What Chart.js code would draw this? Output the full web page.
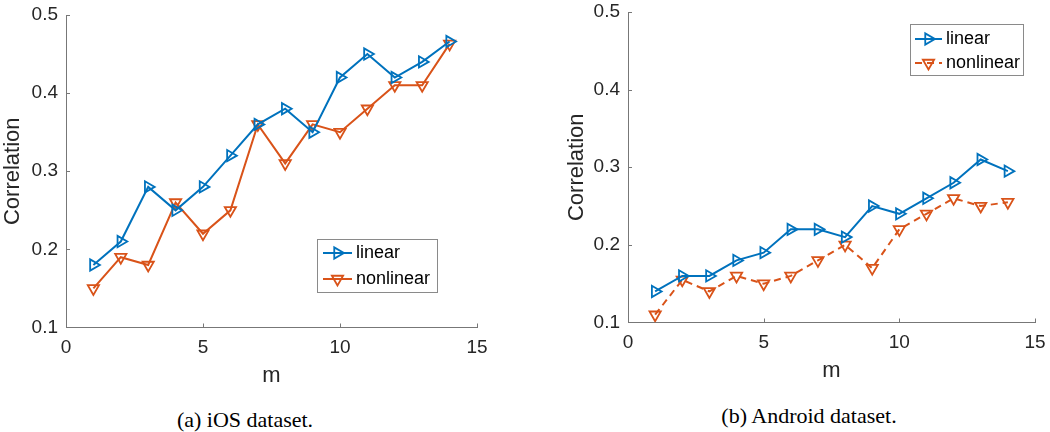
<!DOCTYPE html>
<html>
<head>
<meta charset="utf-8">
<script src="https://cdn.jsdelivr.net/npm/chart.js@4.4.1/dist/chart.umd.min.js"></script>
<style>
  html, body { margin: 0; padding: 0; background: #fff; }
  body { width: 1050px; height: 432px; position: relative; overflow: hidden; }
  canvas { position: absolute; top: 0; }
  #ios { left: 0; }
  #android { left: 564px; }
  .caption { position: absolute; font: 22px "Liberation Serif", "Times New Roman", serif; color: #000; transform: translate(-50%, -50%); white-space: nowrap; }
</style>
</head>
<body>
<canvas id="ios" width="525" height="400"></canvas>
<canvas id="android" width="486" height="400"></canvas>
<div class="caption" style="left:245px;top:420px">(a) iOS dataset.</div>
<div class="caption" style="left:809px;top:416px">(b) Android dataset.</div>
<script>
const mValues = [1, 2, 3, 4, 5, 6, 7, 8, 9, 10, 11, 12, 13, 14]
const iosLinear = [0.18, 0.21, 0.28, 0.25, 0.28, 0.32, 0.36, 0.38, 0.35, 0.42, 0.45, 0.42, 0.44, 0.466]
const iosNonlinear = [0.15, 0.19, 0.18, 0.26, 0.22, 0.25, 0.36, 0.31, 0.36, 0.35, 0.38, 0.41, 0.41, 0.463]
const androidLinear = [0.14, 0.16, 0.16, 0.18, 0.19, 0.22, 0.22, 0.21, 0.25, 0.24, 0.26, 0.28, 0.31, 0.295]
const androidNonlinear = [0.11, 0.155, 0.14, 0.16, 0.15, 0.16, 0.18, 0.2, 0.17, 0.22, 0.24, 0.26, 0.25, 0.255]
const xTickValues = [0, 5, 10, 15]
const yTickValues = [0.1, 0.2, 0.3, 0.4, 0.5]
const seriesNames = ['linear', 'nonlinear']

const BLUE = '#0072BD'
const ORANGE = '#D95319'
const AXIS_COLOR = '#777777'
const TEXT_COLOR = '#262626'
const SANS = '"Liberation Sans", Arial, sans-serif'

const pts = arr => mValues.map((m, i) => ({ x: m, y: arr[i] }))

// MATLAB style: tick marks point into the plot
const innerTicks = {
  id: 'innerTicks',
  afterDraw(chart) {
    const { ctx, chartArea: a, scales: { x, y } } = chart
    ctx.save()
    ctx.strokeStyle = AXIS_COLOR
    ctx.lineWidth = 1
    ctx.beginPath()
    x.ticks.forEach(t => {
      if (t.value === x.min) return
      const px = Math.round(x.getPixelForValue(t.value)) + 0.5
      ctx.moveTo(px, a.bottom); ctx.lineTo(px, a.bottom - 4)
    })
    y.ticks.forEach(t => {
      if (t.value === y.min) return
      const py = Math.round(y.getPixelForValue(t.value)) + 0.5
      ctx.moveTo(a.left, py); ctx.lineTo(a.left + 4, py)
    })
    ctx.stroke()
    ctx.restore()
  }
}

const boxLegend = {
  id: 'boxLegend',
  afterDraw(chart, args, o) {
    const ctx = chart.ctx
    ctx.save()
    ctx.fillStyle = '#fff'
    ctx.fillRect(o.x1, o.y1, o.x2 - o.x1, o.y2 - o.y1)
    ctx.strokeStyle = '#8a8a8a'
    ctx.lineWidth = 1
    ctx.strokeRect(o.x1 + 0.5, o.y1 + 0.5, o.x2 - o.x1, o.y2 - o.y1)
    chart.data.datasets.forEach((ds, i) => {
      const yy = o.rows[i]
      ctx.strokeStyle = ds.borderColor
      ctx.lineWidth = ds.borderWidth
      ctx.setLineDash(ds.borderDash || [])
      ctx.beginPath(); ctx.moveTo(o.lineX1, yy); ctx.lineTo(o.lineX2, yy); ctx.stroke()
      ctx.setLineDash([])
      ctx.lineWidth = ds.pointBorderWidth
      ctx.fillStyle = 'rgba(0,0,0,0)'
      Chart.helpers.drawPoint(ctx, { pointStyle: ds.pointStyle, rotation: ds.pointRotation, radius: ds.pointRadius, borderWidth: ds.pointBorderWidth }, (o.lineX1 + o.lineX2) / 2, yy)
      ctx.fillStyle = '#000'
      ctx.font = '18px ' + SANS
      ctx.textBaseline = 'middle'
      ctx.textAlign = 'left'
      ctx.fillText(ds.label, o.textX, yy)
    })
    ctx.restore()
  }
}

function series(label, values, color, rotation, dash) {
  return {
    label, data: pts(values),
    borderColor: color, borderWidth: 2, borderDash: dash || [],
    pointStyle: 'triangle', pointRotation: rotation, pointRadius: 6.5,
    pointBorderColor: color, pointBorderWidth: 1.8, pointBackgroundColor: 'rgba(0,0,0,0)',
    pointHoverRadius: 6.5, tension: 0, fill: false,
  }
}

function makeChart(id, datasets, lay) {
  return new Chart(document.getElementById(id), {
    type: 'line',
    data: { datasets },
    plugins: [innerTicks, boxLegend],
    options: {
      responsive: false, animation: false, devicePixelRatio: 1,
      layout: { padding: { top: lay.top, right: lay.right, left: 0, bottom: 0 } },
      plugins: { legend: { display: false }, tooltip: { enabled: false }, boxLegend: lay.legend },
      scales: {
        x: {
          type: 'linear', min: 0, max: 15,
          afterBuildTicks: s => { s.ticks = xTickValues.map(v => ({ value: v })) },
          afterFit: s => { s.height = lay.xHeight; s.paddingLeft = s.paddingRight = 0 },
          ticks: { callback: v => String(v), color: TEXT_COLOR, font: { family: SANS, size: 19 }, padding: lay.xPad, maxRotation: 0 },
          grid: { display: false, drawTicks: false },
          border: { display: true, color: AXIS_COLOR, width: 1 },
          title: { display: true, text: 'm', color: TEXT_COLOR, font: { family: SANS, size: 22 }, padding: { top: 0, bottom: lay.mPad } },
        },
        y: {
          min: 0.1, max: 0.5,
          afterBuildTicks: s => { s.ticks = yTickValues.map(v => ({ value: v })) },
          afterFit: s => { s.width = lay.yWidth; s.paddingTop = s.paddingBottom = 0 },
          ticks: { callback: v => v.toFixed(1), color: TEXT_COLOR, font: { family: SANS, size: 19 }, padding: 8 },
          grid: { display: false, drawTicks: false },
          border: { display: true, color: AXIS_COLOR, width: 1 },
          title: { display: true, text: 'Correlation', color: TEXT_COLOR, font: { family: SANS, size: 22 }, padding: 0 },
        },
      },
    },
  })
}

makeChart('ios', [
  series(seriesNames[0], iosLinear, BLUE, 90),
  series(seriesNames[1], iosNonlinear, ORANGE, 180),
], {
  top: 15, right: 48, yWidth: 66, xHeight: 72.5, xPad: 9, mPad: 11,
  legend: { x1: 317, y1: 239, x2: 437, y2: 292, rows: [253, 279], lineX1: 323, lineX2: 352, textX: 356 },
})

makeChart('android', [
  series(seriesNames[0], androidLinear, BLUE, 90),
  series(seriesNames[1], androidNonlinear, ORANGE, 180, [7, 5]),
], {
  top: 12, right: 15, yWidth: 64, xHeight: 77.5, xPad: 9, mPad: 16,
  legend: { x1: 346, y1: 24, x2: 459, y2: 75, rows: [39, 63], lineX1: 351, lineX2: 378, textX: 382 },
})
</script>
</body>
</html>
